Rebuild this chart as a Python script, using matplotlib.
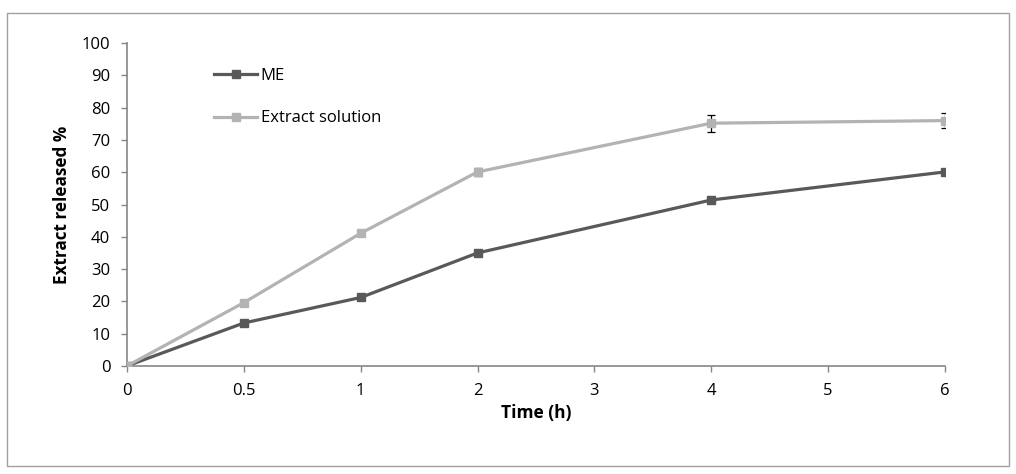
import matplotlib.pyplot as plt
from matplotlib.patches import Rectangle
from matplotlib.lines import Line2D

plt.rcParams['font.family'] = ['Open Sans', 'DejaVu Sans']

tick_labels = ['0', '0.5', '1', '2', '3', '4', '5', '6']
times = ['0', '0.5', '1', '2', '4', '6']
me = [0, 13.3, 21.2, 35.0, 51.4, 60.1]
me_err = [0, 0.3, 0.4, 0.5, 0.6, 0.6]
sol = [0, 19.6, 41.1, 60.1, 75.2, 76.0]
sol_err = [0, 0.4, 0.6, 1.2, 2.6, 2.3]

xpos = [tick_labels.index(t) for t in times]
c_me, c_sol = '#595959', '#b3b3b3'

fig = plt.figure(figsize=(10.16, 4.74), dpi=100)
fig.patches.append(Rectangle((0.007, 0.017), 0.986, 0.955, transform=fig.transFigure,
                             fill=False, edgecolor='#a0a0a0', lw=1))
ax = fig.add_axes([0.125, 0.228, 0.805, 0.681])

ax.errorbar(xpos, me, yerr=me_err, color=c_me, lw=2.3, marker='s', ms=6,
            ecolor='black', elinewidth=0.9, capsize=3, capthick=0.9, zorder=2)
ax.errorbar(xpos, sol, yerr=sol_err, color=c_sol, lw=2.3, marker='s', ms=6,
            ecolor='black', elinewidth=0.9, capsize=3, capthick=0.9, zorder=3)

ax.set_xlim(0, len(tick_labels) - 1)
ax.set_ylim(0, 100)
ax.set_xticks(range(len(tick_labels)))
ax.set_xticklabels(tick_labels)
ax.set_yticks(range(0, 101, 10))
for s in ['top', 'right']:
    ax.spines[s].set_visible(False)
for s in ['left', 'bottom']:
    ax.spines[s].set_color('#868686')
    ax.spines[s].set_linewidth(1.2)
ax.tick_params(colors='#868686', labelcolor='black', labelsize=12, length=4, width=1)
ax.tick_params(axis='x', pad=8)
ax.tick_params(axis='y', pad=8)
ax.set_xlabel('Time (h)', fontsize=12.5, fontweight='bold', labelpad=4)
ax.set_ylabel('Extract released %', fontsize=12.3, fontweight='bold', labelpad=8)

handles = [Line2D([], [], color=c_me, lw=2.3, marker='s', ms=6),
           Line2D([], [], color=c_sol, lw=2.3, marker='s', ms=6)]
ax.legend(handles, ['ME', 'Extract solution'], loc='upper left', bbox_to_anchor=(0.088, 0.97),
          frameon=False, fontsize=12, handlelength=2.6, handletextpad=0.2, labelspacing=1.6)

fig.savefig('out.png', dpi=100)
